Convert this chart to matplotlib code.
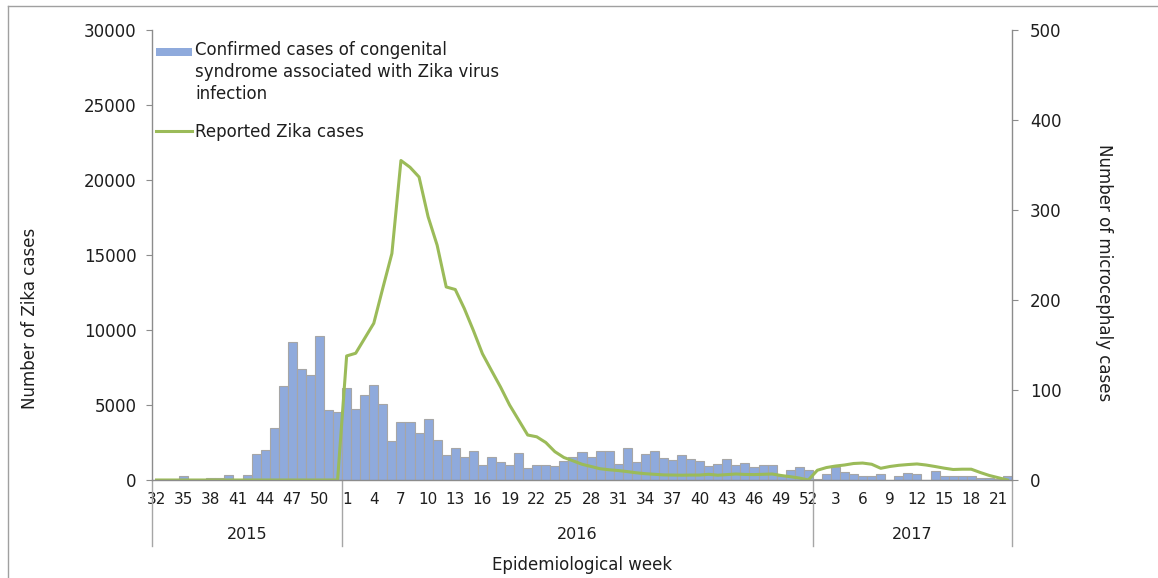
import matplotlib
matplotlib.use("Agg")
import matplotlib.pyplot as plt
from matplotlib.lines import Line2D
from matplotlib.patches import Rectangle
from matplotlib.transforms import blended_transform_factory

# epidemiological weeks per year
weeks_2015 = list(range(32, 53))
weeks_2016 = list(range(1, 53))
weeks_2017 = list(range(1, 23))
years = ["2015", "2016", "2017"]

# confirmed congenital syndrome cases (right axis)
micro_2015 = [0, 0, 0, 4, 0, 0, 2, 2, 6, 0, 6, 29, 33, 58, 104, 153, 123, 117, 160, 78, 76]
micro_2016 = [102, 79, 94, 106, 84, 43, 64, 64, 52, 68, 44, 28, 36, 26, 32, 17, 26, 20, 17, 30,
              13, 17, 17, 16, 21, 26, 31, 26, 32, 32, 18, 36, 20, 29, 32, 25, 22, 28, 23, 21,
              16, 18, 23, 17, 19, 15, 17, 17, 5, 11, 15, 11]
micro_2017 = [1, 7, 14, 9, 7, 4, 5, 7, 0, 4, 8, 7, 0, 10, 5, 5, 4, 4, 2, 2, 1, 5]

# reported Zika cases (left axis)
zika_2015 = [0] * 21
zika_2016 = [8270, 8450, 9450, 10450, 12800, 15100, 21300, 20850, 20200, 17550, 15650, 12870,
             12700, 11430, 9970, 8420, 7300, 6200, 5000, 4000, 3000, 2880, 2500, 1890, 1500,
             1280, 1050, 900, 750, 680, 630, 560, 480, 420, 380, 340, 330, 320, 330, 330, 380,
             320, 360, 400, 370, 360, 380, 400, 300, 220, 130, 0]
zika_2017 = [650, 830, 930, 1000, 1100, 1130, 1050, 780, 900, 980, 1030, 1070, 1000, 900, 790,
             700, 720, 720, 500, 300, 150, 0]

weeks = weeks_2015 + weeks_2016 + weeks_2017
micro = micro_2015 + micro_2016 + micro_2017
zika = zika_2015 + zika_2016 + zika_2017
x = list(range(len(weeks)))

BAR = "#8faadc"
GREEN = "#9bbb59"
AXC = "#8c8c8c"
TXT = "#1e1e1e"

fig = plt.figure(figsize=(11.58, 5.78), dpi=100)
ax = fig.add_axes([152 / 1158, 98 / 578, 860 / 1158, 450 / 578])
ax2 = ax.twinx()

# bars on the right axis, line on the left axis drawn above
ax2.bar(x, micro, width=1.0, color=BAR, edgecolor="#a6a6a6", linewidth=0.8)
ax.plot(x, zika, color=GREEN, linewidth=2.2)
ax.set_zorder(ax2.get_zorder() + 1)
ax.patch.set_visible(False)

ax.set_xlim(-0.5, len(weeks) - 0.5)
ax.set_ylim(0, 30000)
ax2.set_ylim(0, 500)
ax.set_yticks(range(0, 30001, 5000))
ax2.set_yticks(range(0, 501, 100))

for a in (ax, ax2):
    for s in a.spines.values():
        s.set_visible(False)
ax.spines["left"].set_visible(True)
ax.spines["bottom"].set_visible(True)
ax2.spines["right"].set_visible(True)
for s in (ax.spines["left"], ax.spines["bottom"], ax2.spines["right"]):
    s.set_color(AXC)
    s.set_linewidth(1.0)

ax.tick_params(axis="y", direction="out", length=4, color=AXC, labelsize=12,
               labelcolor=TXT, pad=7)
ax2.tick_params(axis="y", direction="out", length=4, color=AXC, labelsize=12,
                labelcolor=TXT, pad=9)

ticks = x[::3]
ax.set_xticks(ticks)
ax.set_xticklabels([str(weeks[i]) for i in ticks])
ax.tick_params(axis="x", length=0, labelsize=11, labelcolor=TXT, pad=9)

# year groups under the week labels
trans = blended_transform_factory(ax.transData, ax.transAxes)
n15, n16 = len(weeks_2015), len(weeks_2016)
bounds = [-0.5, n15 - 0.5, n15 + n16 - 0.5, len(weeks) - 0.5]
for b in bounds:
    ax.add_line(Line2D([b, b], [0, -0.147], transform=trans, color="#a6a6a6",
                       linewidth=1.0, clip_on=False))
for k, yr in enumerate(years):
    ax.text((bounds[k] + bounds[k + 1]) / 2, -0.122, yr, transform=trans,
            ha="center", va="center", fontsize=11.5, color=TXT)

ax.text(0.5, -0.19, "Epidemiological week", transform=ax.transAxes,
        ha="center", va="center", fontsize=12, color=TXT)
fig.text(30 / 1158, 1 - 318 / 578, "Number of Zika cases", rotation=90,
         ha="center", va="center", fontsize=12, color=TXT)
fig.text(1104 / 1158, 1 - 273 / 578, "Number of microcephaly cases", rotation=270,
         ha="center", va="center", fontsize=12, color=TXT)

# legend drawn by hand to keep the Excel layout
ax.add_patch(Rectangle((0.0043, 0.943), 0.0426, 0.016, transform=ax.transAxes,
                       facecolor=BAR, edgecolor="none", clip_on=False))
leg_lines = ["Confirmed cases of congenital",
             "syndrome associated with Zika virus",
             "infection"]
for y, t in zip([0.9444, 0.8949, 0.846], leg_lines):
    ax.text(0.05, y, t, transform=ax.transAxes, ha="left", va="baseline",
            fontsize=12, color=TXT)
ax.add_line(Line2D([0.0043, 0.047], [0.7762, 0.7762], transform=ax.transAxes,
                   color=GREEN, linewidth=2.2, clip_on=False))
ax.text(0.05, 0.7629, "Reported Zika cases", transform=ax.transAxes, ha="left",
        va="baseline", fontsize=12, color=TXT)

# chart area border (left and top visible)
fig.add_artist(Line2D([8 / 1158, 8 / 1158], [0, 1 - 6 / 578], transform=fig.transFigure,
                      color="#a0a0a0", linewidth=1.0))
fig.add_artist(Line2D([8 / 1158, 1], [1 - 6 / 578, 1 - 6 / 578], transform=fig.transFigure,
                      color="#a0a0a0", linewidth=1.0))

fig.savefig("out.png", dpi=100)
